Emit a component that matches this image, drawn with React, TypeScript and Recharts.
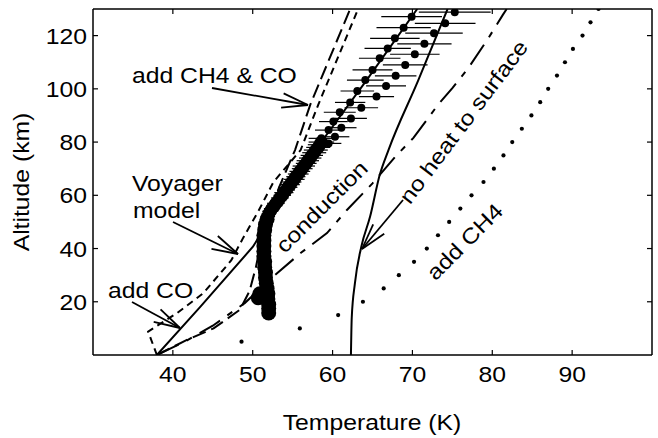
import React from 'react';
import { ComposedChart, XAxis, YAxis, Line, Scatter, ErrorBar } from 'recharts';

const FONT = "'Liberation Sans', Arial, Helvetica, sans-serif";
const SX = 1.15;
const FS = 21.5;

const xTicks = [40, 50, 60, 70, 80, 90];
const yTicks = [20, 40, 60, 80, 100, 120];

// Voyager model (solid)
const voyager = [
  { t: 38.0, alt: 0 }, { t: 43.4, alt: 18 }, { t: 50.0, alt: 40.6 }, { t: 53.5, alt: 57 },
  { t: 57.6, alt: 76 }, { t: 64.2, alt: 103 }, { t: 70.6, alt: 130 },
];
// add CO (short dash)
const addCO = [
  { t: 38.0, alt: 0 }, { t: 36.9, alt: 8.8 }, { t: 40.5, alt: 15.7 }, { t: 43.8, alt: 23.2 },
  { t: 47.3, alt: 35.5 }, { t: 48.8, alt: 44 }, { t: 50.7, alt: 54 }, { t: 52.6, alt: 65 },
  { t: 56.0, alt: 77 }, { t: 58.2, alt: 94 }, { t: 63.2, alt: 130 },
];
// add CH4 & CO (long dash)
const addCH4CO = [
  { t: 38.0, alt: 0 }, { t: 41.7, alt: 5.6 }, { t: 45.1, alt: 10 }, { t: 48.4, alt: 17 },
  { t: 49.6, alt: 24 }, { t: 50.4, alt: 33 }, { t: 51.0, alt: 42 }, { t: 52.0, alt: 52 },
  { t: 53.3, alt: 63 }, { t: 55.3, alt: 77 }, { t: 57.2, alt: 94 }, { t: 62.2, alt: 130 },
];
// conduction (dash-dot)
const conduction = [
  { t: 38.0, alt: 0 }, { t: 41.5, alt: 5 }, { t: 45.0, alt: 11 }, { t: 49.0, alt: 19.5 },
  { t: 52.5, alt: 29.3 }, { t: 56.0, alt: 38.3 }, { t: 59.3, alt: 45.8 }, { t: 61.8, alt: 54.5 },
  { t: 65.0, alt: 64.5 }, { t: 68.0, alt: 75 }, { t: 70.1, alt: 81.5 }, { t: 73.2, alt: 94 },
  { t: 75.0, alt: 100.3 }, { t: 77.0, alt: 107.8 }, { t: 79.5, alt: 119 }, { t: 81.3, alt: 127.7 },
  { t: 81.8, alt: 130 },
];
// no heat to surface (solid)
const noHeat = [
  { t: 62.3, alt: 0 }, { t: 62.4, alt: 14 }, { t: 62.8, alt: 27 }, { t: 63.6, alt: 40.7 },
  { t: 64.7, alt: 52 }, { t: 65.9, alt: 67.6 }, { t: 67.0, alt: 77 }, { t: 70.7, alt: 103 },
  { t: 74.4, alt: 130 },
];
// add CH4 (dotted)
const addCH4 = [
  { t: 48.6, alt: 5 }, { t: 55.9, alt: 10 }, { t: 60.7, alt: 15 }, { t: 63.8, alt: 20 },
  { t: 66.4, alt: 25 }, { t: 68.3, alt: 30 }, { t: 70.2, alt: 35 }, { t: 71.8, alt: 40 },
  { t: 73.2, alt: 45 }, { t: 74.6, alt: 50 }, { t: 76.0, alt: 55 }, { t: 77.4, alt: 60 },
  { t: 78.9, alt: 65 }, { t: 80.2, alt: 70 }, { t: 81.4, alt: 75 }, { t: 82.5, alt: 80 },
  { t: 83.7, alt: 85 }, { t: 84.9, alt: 90 }, { t: 86.0, alt: 95 }, { t: 87.0, alt: 100 },
  { t: 88.1, alt: 105 }, { t: 89.1, alt: 110 }, { t: 90.1, alt: 115 }, { t: 91.3, alt: 120 },
  { t: 92.3, alt: 125 }, { t: 93.3, alt: 130 },
];
// observations, upper profile (two interleaved sets)
const obsA = [
  { t: 69.9, alt: 127.1, err: 3.8 }, { t: 68.9, alt: 123.0, err: 3.4 }, { t: 67.8, alt: 119.0, err: 3.1 },
  { t: 66.9, alt: 115.2, err: 2.9 }, { t: 65.9, alt: 111.5, err: 2.6 }, { t: 65.0, alt: 107.1, err: 2.5 },
  { t: 64.1, alt: 103.3, err: 2.3 }, { t: 63.1, alt: 99.2, err: 2.1 }, { t: 62.2, alt: 94.9, err: 1.9 },
  { t: 60.9, alt: 91.2, err: 2.0 }, { t: 60.1, alt: 87.7, err: 1.8 }, { t: 59.5, alt: 84.5, err: 1.7 },
  { t: 58.6, alt: 81.4, err: 1.6 },
];
const obsB = [
  { t: 75.3, alt: 128.8, err: 4.5 }, { t: 74.1, alt: 124.6, err: 3.8 }, { t: 72.7, alt: 120.9, err: 3.6 },
  { t: 71.5, alt: 116.9, err: 3.4 }, { t: 70.3, alt: 113.0, err: 3.1 }, { t: 69.1, alt: 109.0, err: 2.8 },
  { t: 67.9, alt: 104.9, err: 2.6 }, { t: 66.7, alt: 101.1, err: 2.5 }, { t: 65.5, alt: 97.1, err: 2.2 },
  { t: 63.6, alt: 92.9, err: 2.1 }, { t: 62.3, alt: 88.9, err: 2.0 }, { t: 61.1, alt: 85.4, err: 1.9 },
  { t: 60.3, alt: 82.0, err: 1.8 }, { t: 59.5, alt: 79.5, err: 1.6 },
];
// observations, dense lower profile
const obsLow = [
  { t: 52.0, alt: 15.8 }, { t: 52.0, alt: 17.5 }, { t: 52.0, alt: 19 }, { t: 51.9, alt: 21 },
  { t: 50.7, alt: 21.5 }, { t: 50.9, alt: 23 }, { t: 51.9, alt: 23 }, { t: 51.8, alt: 25 },
  { t: 51.7, alt: 27 }, { t: 51.6, alt: 29 }, { t: 51.6, alt: 31 }, { t: 51.5, alt: 33 },
  { t: 51.5, alt: 35 }, { t: 51.4, alt: 37 }, { t: 51.4, alt: 39 }, { t: 51.4, alt: 41 },
  { t: 51.4, alt: 43 }, { t: 51.4, alt: 45 }, { t: 51.5, alt: 47 }, { t: 51.6, alt: 49 },
  { t: 51.8, alt: 51 },
];
const obsMid = [
  { t: 51.9, alt: 52, err: 0.9 }, { t: 52.0, alt: 53, err: 0.9 }, { t: 52.2, alt: 54, err: 1.0 },
  { t: 52.4, alt: 55, err: 1.0 }, { t: 52.7, alt: 56, err: 1.0 }, { t: 52.9, alt: 57, err: 1.1 },
  { t: 53.2, alt: 58, err: 1.0 }, { t: 53.4, alt: 59, err: 1.1 }, { t: 53.7, alt: 60, err: 1.1 },
  { t: 53.9, alt: 61, err: 1.2 }, { t: 54.2, alt: 62, err: 1.1 }, { t: 54.4, alt: 63, err: 1.2 },
  { t: 54.7, alt: 64, err: 1.2 }, { t: 54.9, alt: 65, err: 1.2 }, { t: 55.2, alt: 66, err: 1.3 },
  { t: 55.4, alt: 67, err: 1.2 }, { t: 55.7, alt: 68, err: 1.3 }, { t: 55.9, alt: 69, err: 1.3 },
  { t: 56.2, alt: 70, err: 1.3 }, { t: 56.4, alt: 71, err: 1.4 }, { t: 56.7, alt: 72, err: 1.3 },
  { t: 56.9, alt: 73, err: 1.4 }, { t: 57.2, alt: 74, err: 1.4 }, { t: 57.4, alt: 75, err: 1.4 },
  { t: 57.7, alt: 76, err: 1.5 }, { t: 57.9, alt: 77, err: 1.5 }, { t: 58.2, alt: 78, err: 1.5 },
  { t: 58.4, alt: 79, err: 1.5 }, { t: 58.6, alt: 80, err: 1.6 },
];

const dotShape = (r: number) => (p: any) => <circle cx={p.cx} cy={p.cy} r={r} fill="#000" />;

const XTickBottom = (p: any) => (
  <g>
    <line x1={p.x} x2={p.x} y1={p.y} y2={p.y - 5} stroke="#000" strokeWidth={1.2} />
    <text transform={`translate(${p.x},${p.y + 27}) scale(${SX},1)`} textAnchor="middle" fontFamily={FONT} fontSize={FS} fill="#000">{p.payload.value}</text>
  </g>
);
const XTickTop = (p: any) => (
  <line x1={p.x} x2={p.x} y1={p.y} y2={p.y + 5} stroke="#000" strokeWidth={1.2} />
);
const YTickLeft = (p: any) => (
  <g>
    <line x1={p.x} x2={p.x + 5} y1={p.y} y2={p.y} stroke="#000" strokeWidth={1.2} />
    <text transform={`translate(${p.x - 6},${p.y + 8}) scale(${SX},1)`} textAnchor="end" fontFamily={FONT} fontSize={FS} fill="#000">{p.payload.value}</text>
  </g>
);
const YTickRight = (p: any) => (
  <line x1={p.x} x2={p.x - 5} y1={p.y} y2={p.y} stroke="#000" strokeWidth={1.2} />
);

const Label = ({ x, y, rot = 0, anchor = 'start', dy = 0, children }: any) => (
  <text transform={`translate(${x},${y}) rotate(${rot}) scale(${SX},1)`} y={dy} textAnchor={anchor} fontFamily={FONT} fontSize={FS} fill="#000">{children}</text>
);

const Arrow = ({ x1, y1, x2, y2 }: any) => {
  const ang = Math.atan2(y1 - y2, x1 - x2);
  const L = 27;
  const a = 0.27;
  return (
    <g stroke="#000" strokeWidth={1.8} fill="none">
      <line x1={x1} y1={y1} x2={x2} y2={y2} />
      <line x1={x2} y1={y2} x2={x2 + L * Math.cos(ang + a)} y2={y2 + L * Math.sin(ang + a)} />
      <line x1={x2} y1={y2} x2={x2 + L * Math.cos(ang - a)} y2={y2 + L * Math.sin(ang - a)} />
    </g>
  );
};

const axisLine = { stroke: '#000', strokeWidth: 1.5 };

export default function App() {
  return (
    <div style={{ position: 'absolute', left: 0, top: 0, width: 658, height: 438, background: '#fff' }}>
      <ComposedChart width={658} height={438} margin={{ top: 0, right: 0, bottom: 0, left: 0 }}>
        <XAxis type="number" dataKey="t" domain={[30, 100]} ticks={xTicks} allowDataOverflow height={83}
          tickSize={0} tickMargin={0} tickLine={false} tick={XTickBottom} axisLine={axisLine} interval={0} />
        <XAxis xAxisId="top" orientation="top" type="number" dataKey="t" domain={[30, 100]} ticks={xTicks}
          allowDataOverflow height={9} tickSize={0} tickMargin={0} tickLine={false} tick={XTickTop} axisLine={axisLine} interval={0} />
        <YAxis type="number" dataKey="alt" domain={[0, 130]} ticks={yTicks} allowDataOverflow width={93}
          tickSize={0} tickMargin={0} tickLine={false} tick={YTickLeft} axisLine={axisLine} interval={0} />
        <YAxis yAxisId="right" orientation="right" type="number" dataKey="alt" domain={[0, 130]} ticks={yTicks}
          allowDataOverflow width={6} tickSize={0} tickMargin={0} tickLine={false} tick={YTickRight} axisLine={axisLine} interval={0} />

        <Line data={voyager} dataKey="alt" type="linear" stroke="#000" strokeWidth={2} dot={false} activeDot={false} isAnimationActive={false} />
        <Line data={noHeat} dataKey="alt" type="monotone" stroke="#000" strokeWidth={2} dot={false} activeDot={false} isAnimationActive={false} />
        <Line data={addCO} dataKey="alt" type="linear" stroke="#000" strokeWidth={2} strokeDasharray="7 5" dot={false} activeDot={false} isAnimationActive={false} />
        <Line data={addCH4CO} dataKey="alt" type="linear" stroke="#000" strokeWidth={2} strokeDasharray="14 6" dot={false} activeDot={false} isAnimationActive={false} />
        <Line data={conduction} dataKey="alt" type="linear" stroke="#000" strokeWidth={2} strokeDasharray="24 9 6 9" dot={false} activeDot={false} isAnimationActive={false} />

        <Scatter data={addCH4} dataKey="alt" shape={dotShape(2.1)} isAnimationActive={false} />
        <Scatter data={obsLow} dataKey="alt" shape={dotShape(7.5)} isAnimationActive={false} />
        <Scatter data={obsMid} dataKey="alt" shape={dotShape(6.5)} isAnimationActive={false}>
          <ErrorBar dataKey="err" direction="x" width={0} stroke="#000" strokeWidth={1.2} />
        </Scatter>
        <Scatter data={obsA} dataKey="alt" shape={dotShape(4)} isAnimationActive={false}>
          <ErrorBar dataKey="err" direction="x" width={0} stroke="#000" strokeWidth={1.2} />
        </Scatter>
        <Scatter data={obsB} dataKey="alt" shape={dotShape(4)} isAnimationActive={false}>
          <ErrorBar dataKey="err" direction="x" width={0} stroke="#000" strokeWidth={1.2} />
        </Scatter>
      </ComposedChart>

      <svg width={658} height={438} style={{ position: 'absolute', left: 0, top: 0, pointerEvents: 'none' }}>
        <Label x={372} y={430} anchor="middle">Temperature (K)</Label>
        <Label x={29} y={182} rot={-90} anchor="middle">Altitude (km)</Label>

        <Label x={132} y={83}>add CH4 &amp; CO</Label>
        <Arrow x1={212} y1={88} x2={308} y2={105} />

        <Label x={132} y={191}>Voyager</Label>
        <Label x={133} y={218}>model</Label>
        <Arrow x1={173} y1={222} x2={238} y2={254} />

        <Label x={108} y={298}>add CO</Label>
        <Arrow x1={132} y1={302} x2={180} y2={328} />

        <Label x={322} y={207} rot={-45} anchor="middle" dy={7}>conduction</Label>
        <Label x={464} y={122} rot={-53} anchor="middle" dy={7}>no heat to surface</Label>
        <Arrow x1={403} y1={200} x2={362} y2={249} />
        <Label x={465} y={242} rot={-45} anchor="middle" dy={7}>add CH4</Label>
      </svg>
    </div>
  );
}
